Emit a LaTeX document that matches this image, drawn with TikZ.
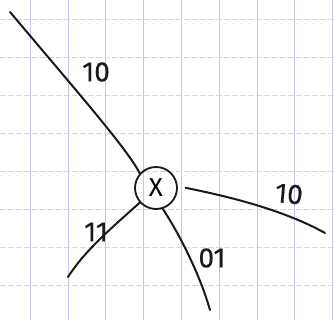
\documentclass[tikz,border=0pt]{standalone}
\usepackage{fontspec}
\setmainfont{Fira Sans}
\usepackage{tikz}
\usetikzlibrary{positioning}
\definecolor{gridBlue}{HTML}{C4C6E8}
\definecolor{gridGray}{HTML}{D6D8E0}
\definecolor{penBlack}{HTML}{1A1A1A}

\begin{document}
\begin{tikzpicture}[
    x=1pt, y=-1pt,
    vgrid/.style={draw=gridBlue, line width=0.6pt},
    hgrid/.style={draw=gridGray, line width=0.6pt, dash pattern=on 6pt off 2pt},
    wire/.style={draw=penBlack, line width=2pt, line cap=round},
    gate/.style={
        circle,
        draw=penBlack,
        line width=1.8pt,
        minimum size=42pt,
        inner sep=0pt,
        font=\fontsize{26}{26}\selectfont
    },
    tag/.style={
        text=penBlack,
        inner sep=1pt,
        font=\fontsize{28}{28}\selectfont\addfontfeatures{FakeBold=0.2}
    }
]
\useasboundingbox (0,0) rectangle (335,320);
\fill[white] (0,0) rectangle (335,320);

% paper grid
\foreach \gx in {0,...,8}
    \draw[vgrid] (30+37.8*\gx,0) -- (30+37.8*\gx,320);
\foreach \gy in {0,...,7}
    \draw[hgrid] (0,19+38*\gy) -- (335,19+38*\gy);

% the vertex
\node[gate] (x) at (156,188) {X};

% free ends
\coordinate (ul) at (10,12);
\coordinate (rt) at (325,233);
\coordinate (ll) at (68,277);
\coordinate (lo) at (210,310);

% legs
\draw[wire] (x.138) .. controls (128,150) and (80,95) .. (ul);
\draw[wire, shorten <=8pt] (x.5) .. controls (205,192) and (275,205) .. (rt);
\draw[wire] (x.222) .. controls (115,225) and (85,250) .. (ll);
\draw[wire] (x.288) .. controls (180,235) and (200,275) .. (lo);

% labels
\node[tag] (ulLabel) at (96,72) {10};
\node[tag, rotate=-5] (rtLabel) at (289,194) {10};
\node[tag] (llLabel) at (96,232) {11};
\node[tag] (loLabel) at (212,258) {01};
\end{tikzpicture}
\end{document}
